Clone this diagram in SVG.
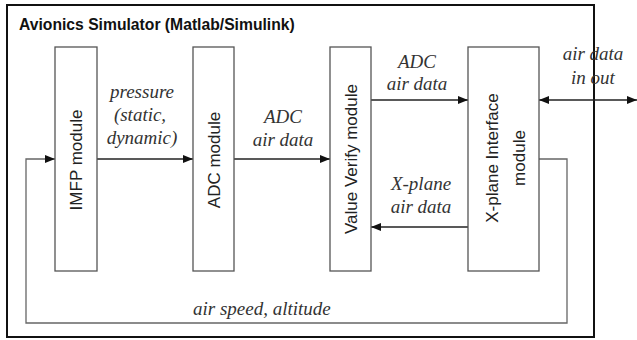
<svg xmlns="http://www.w3.org/2000/svg" width="637" height="340" viewBox="0 0 637 340">
<style>
.box{fill:#fff;stroke:#555;stroke-width:1.3}
.mod{font-family:"Liberation Sans",Arial,sans-serif;font-size:17px;fill:#222;text-anchor:middle}
.lbl{font-family:"Liberation Serif","Times New Roman",serif;font-style:italic;font-size:19px;fill:#333;text-anchor:middle}
.start{text-anchor:start}
.ln{fill:none;stroke:#222;stroke-width:1.3}
.fb{fill:none;stroke:#666;stroke-width:1.3}
</style>
<defs>
<marker id="ah" viewBox="0 0 10 8" refX="10" refY="4" markerWidth="10" markerHeight="8" markerUnits="userSpaceOnUse" orient="auto-start-reverse">
<path d="M0,0 L10,4 L0,8 Z" fill="#111"/>
</marker>
</defs>
<rect width="637" height="340" fill="#fff"/>
<g id="simulator">
<rect x="7" y="5" width="587" height="332" fill="none" stroke="#111" stroke-width="2"/>
<text x="19" y="30" font-family="'Liberation Sans',Arial,sans-serif" font-size="15.7" font-weight="bold" fill="#111">Avionics Simulator (Matlab/Simulink)</text>
</g>
<g id="connectors">
<line class="ln" x1="97" y1="159" x2="193" y2="159" marker-end="url(#ah)"/>
<line class="ln" x1="234" y1="159" x2="330" y2="159" marker-end="url(#ah)"/>
<line class="ln" x1="371" y1="100" x2="468" y2="100" marker-end="url(#ah)"/>
<line class="ln" x1="468" y1="227" x2="371" y2="227" marker-end="url(#ah)"/>
<line class="ln" x1="539" y1="100" x2="637" y2="100" stroke-width="2" marker-start="url(#ah)" marker-end="url(#ah)"/>
<polyline class="fb" points="539,159 567,159 567,323 26,323 26,159 55,159" marker-end="url(#ah)"/>
<text class="lbl" x="142" y="98">pressure</text>
<text class="lbl" x="140" y="121">(static,</text>
<text class="lbl" x="142" y="144">dynamic)</text>
<text class="lbl" x="283" y="123">ADC</text>
<text class="lbl" x="283" y="146">air data</text>
<text class="lbl" x="417" y="68">ADC</text>
<text class="lbl" x="417" y="90">air data</text>
<text class="lbl" x="421" y="190">X-plane</text>
<text class="lbl" x="421" y="213">air data</text>
<text class="lbl" x="593" y="60">air data</text>
<text class="lbl" x="593" y="84">in out</text>
<text class="lbl start" x="193" y="315">air speed, altitude</text>
</g>
<g id="imfp">
<rect class="box" x="55" y="47" width="42" height="224"/>
<text class="mod" transform="translate(82,160) rotate(-90)">IMFP module</text>
</g>
<g id="adc">
<rect class="box" x="193" y="47" width="41" height="224"/>
<text class="mod" transform="translate(220,160) rotate(-90)">ADC module</text>
</g>
<g id="value-verify">
<rect class="box" x="330" y="47" width="41" height="224"/>
<text class="mod" transform="translate(357,159) rotate(-90)">Value Verify module</text>
</g>
<g id="xplane">
<rect class="box" x="468" y="47" width="71" height="224"/>
<text class="mod" transform="translate(498,158) rotate(-90)">X-plane Interface</text>
<text class="mod" transform="translate(525,158) rotate(-90)">module</text>
</g>
</svg>
